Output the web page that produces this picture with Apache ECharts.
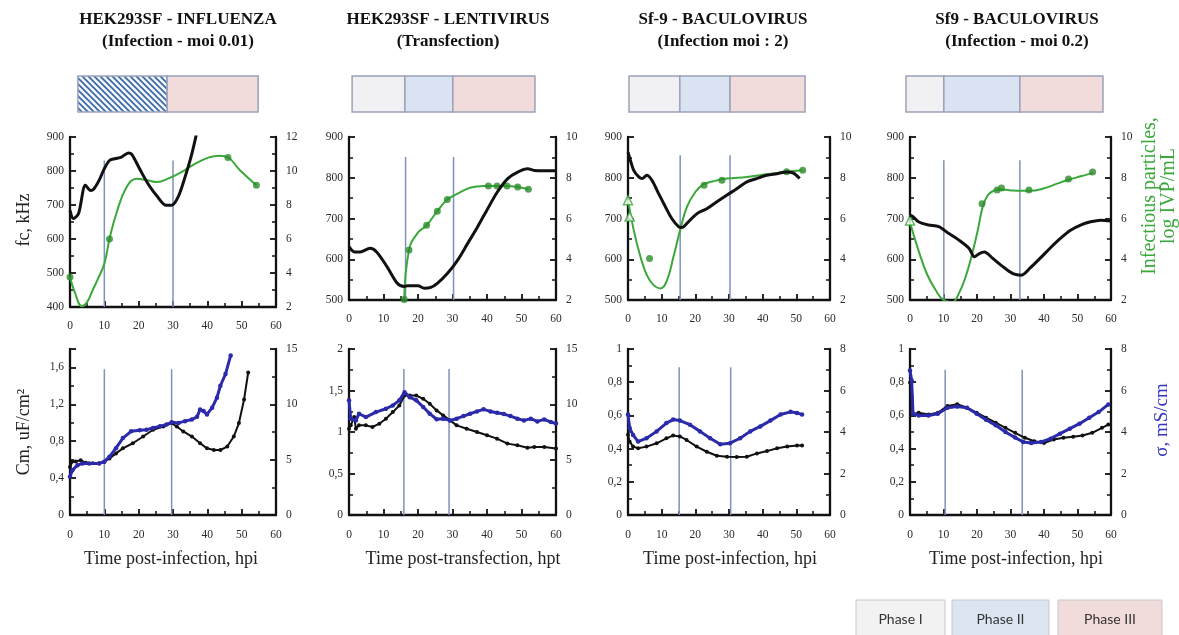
<!DOCTYPE html>
<html><head><meta charset="utf-8">
<script src="https://cdn.jsdelivr.net/npm/echarts@6/dist/echarts.min.js"></script>
<style>html,body{margin:0;padding:0;background:#fff}#c{width:1179px;height:635px}</style>
</head><body><div id="c"></div>
<script>
// ================= DATA =================
const titles = [
  'HEK293SF - INFLUENZA\n(Infection - moi 0.01)',
  'HEK293SF - LENTIVIRUS\n(Transfection)',
  'Sf-9 - BACULOVIRUS\n(Infection moi : 2)',
  'Sf9 - BACULOVIRUS\n(Infection - moi 0.2)'
];
const xNames = ['Time post-infection, hpi','Time post-transfection, hpt','Time post-infection, hpi','Time post-infection, hpi'];
const phaseNames = ['Phase I','Phase II','Phase III'];

// phase bars: boundaries (h) and kinds (0 = I, 1 = II, 2 = III, 3 = hatched I+II)
const phaseBounds1 = [2.3, 28.3, 54.8];        const phaseKinds1 = [3, 2];
const phaseBounds2 = [0.9, 16.2, 30.1, 53.9];  const phaseKinds2 = [0, 1, 2];
const phaseBounds3 = [0.3, 15.4, 30.3, 52.6];  const phaseKinds3 = [0, 1, 2];
const phaseBounds4 = [-1.2, 10.1, 32.8, 57.6]; const phaseKinds4 = [0, 1, 2];

// vertical phase lines (h) and their top value (left axis units)
const vLines1 = [10, 30];     const vTop1 = 831;
const vLines2 = [16.4, 30.3]; const vTop2 = 851;
const vLines3 = [15.5, 30.3]; const vTop3 = 855;
const vLines4 = [10.1, 32.8]; const vTop4 = 843;
const vLines5 = [10, 29.6];   const vTop5 = 1.58;
const vLines6 = [15.9, 29];   const vTop6 = 1.76;
const vLines7 = [15.2, 30.5]; const vTop7 = 0.89;
const vLines8 = [10.5, 33.5]; const vTop8 = 0.875;

// ---- top row: fc (kHz) ----
const fcT1 = [0,1,2.5,4.5,6,7,8.5,10,11.5,13,15,17,18,20.5,23,25.5,28,29.5,31.5,33.5,35.5,37.5];
const fc1  = [684,660,675,758,743,748,773,807,831,836,841,853,849,802,758,724,699,699,724,782,851,940];
const fcT2 = [0,1.6,3.2,6.1,8,11,14,16,17,20,21.8,23.7,25.6,28.5,31.5,34.4,37.3,40.2,43,46,48.9,51.8,53.7,56.6,60];
const fc2  = [631,618,618,627,618,582,541,533,535,535,529,531,541,565,598,639,680,724,765,798,814,822,818,817,817];
const fcT3 = [0,0.7,1.7,3.2,4.2,5.6,7.1,9.1,11.1,13,15,16,17.5,20.5,23.4,26.4,29.3,32.3,35.3,38.2,41.2,44.2,47.1,49,51];
const fc3  = [863,843,818,802,798,806,794,761,729,700,680,678,688,712,724,741,757,773,790,798,806,810,814,812,798];
const fcT4 = [0,1,2.5,5.5,8.6,11.6,14.6,17.6,19.2,20.7,22.2,24.7,27.7,30.7,33.3,35.8,38.8,41.8,44.9,47.9,50.9,53.9,56.9,60];
const fc4  = [708,704,692,684,680,663,647,627,606,614,618,602,582,565,561,578,602,627,651,671,684,692,696,694];

// ---- top row: infectious particles (log IVP/mL), fitted curve + measured points ----
const ipCurveT1 = [0,1.5,3.5,5,6.5,8,10,11.5,13.5,16.5,19.5,22.5,25.5,28.5,32.5,36.5,40.5,43.5,46,49.5,54.3];
const ipCurve1  = [3.76,2.8,2.05,2.3,2.95,3.6,4.55,6.0,7.5,9.06,9.55,9.45,9.35,9.55,9.94,10.43,10.8,10.9,10.8,10.04,9.16];
const ipPtT1 = [0,11.5,46,54.3];
const ipPt1  = [3.76,6.0,10.8,9.16];

const ipCurveT2 = [16,17.4,19.8,22.5,25.6,28.5,31.5,35.3,39,42.9,45.8,48.9,52];
const ipCurve2  = [2.03,4.45,5.27,5.67,6.36,6.93,7.22,7.52,7.6,7.6,7.6,7.55,7.44];
const ipPtT2 = [16,17.4,22.5,25.6,28.5,40.4,42.9,45.8,48.9,52];
const ipPt2  = [2.03,4.45,5.67,6.36,6.93,7.6,7.6,7.6,7.55,7.44];

const ipCurveT3 = [0,1.7,3.7,5.6,7.6,9.6,11.6,13.5,15.5,17.5,20,22.4,25.4,29.3,35.3,41.2,47.1,51.9];
const ipCurve3  = [6.9,5.43,4.12,3.22,2.73,2.57,2.98,4.12,5.43,6.57,7.3,7.67,7.83,7.96,8.04,8.17,8.29,8.37];
const ipPtT3 = [6.4,22.6,27.9,47.1,51.9];
const ipPt3  = [4.04,7.63,7.88,8.29,8.37];
const ipTriT3 = [0,0.5];
const ipTri3  = [6.9,6.1];

const ipCurveT4 = [0,2.5,5,7.6,10,12.6,14.6,16.6,18.6,20.2,21.7,23.2,24.7,26.7,29.7,32.8,35.8,39.8,43.9,47.4,51,54.6];
const ipCurve4  = [5.8,4.45,3.3,2.5,2.0,1.9,2.33,3.14,4.3,5.4,6.57,7.14,7.34,7.42,7.39,7.36,7.36,7.47,7.71,7.9,8.07,8.24];
const ipPtT4 = [21.5,26,27.3,35.5,47.3,54.5];
const ipPt4  = [6.72,7.4,7.5,7.4,7.94,8.28];
const ipTriT4 = [0];
const ipTri4  = [5.9];

// ---- bottom row: Cm (uF/cm2, left) and conductivity sigma (mS/cm, right) ----
const cmT1 = [0,0.7,1.7,3.1,4.6,6.6,8.5,10,11.5,13.4,15.4,18.3,21.3,24.2,27.2,29.6,31.1,33,35.5,37.9,39.9,41.9,43.8,45.8,47.7,49.2,50.7,51.9];
const cm1  = [0.52,0.58,0.58,0.595,0.566,0.56,0.56,0.577,0.614,0.668,0.723,0.778,0.851,0.924,0.96,0.997,0.96,0.906,0.851,0.778,0.723,0.705,0.705,0.742,0.851,0.997,1.253,1.545];
const sgT1 = [0,0.7,2.2,3.6,5.6,8.5,10,11.5,13.4,15.4,17.8,20.3,22.3,24.2,26.2,28.1,29.6,31.6,33.5,35.5,37,37.9,38.9,39.9,41.4,42.8,43.8,45.3,46.8];
const sg1  = [3.45,4.05,4.5,4.66,4.66,4.66,4.82,5.27,6.04,6.95,7.56,7.65,7.71,7.87,8.02,8.17,8.38,8.32,8.48,8.63,8.87,9.54,9.39,9.09,9.7,10.6,11.68,12.74,14.42];

const cmT2 = [0,0.5,1.5,2,2.9,4.9,6.8,8.8,10.7,12.7,14.6,16.1,17.6,19.5,21.5,23.4,25.4,27.3,29.3,31.2,34.1,37.1,40,42.9,45.9,48.8,51.7,53.7,56.6,60];
const cm2  = [1.04,1.08,1.18,1.04,1.08,1.08,1.06,1.1,1.16,1.24,1.32,1.44,1.44,1.44,1.4,1.34,1.26,1.2,1.14,1.08,1.04,1.0,0.96,0.92,0.86,0.84,0.81,0.82,0.82,0.8];
const sgT2 = [0,0.5,2,2.9,4.9,7.8,10.7,12.7,14.6,16.1,17.6,19.5,21.5,23.4,25.4,27.3,29.3,31.2,33.2,35.1,37.1,39,41,42.9,44.9,46.8,48.8,50.7,52.7,54.6,56.6,58.5,60];
const sg2  = [10.36,8.7,8.55,9.15,8.85,9.3,9.6,9.9,10.36,11.1,10.65,10.36,9.76,9.16,8.65,8.7,8.55,8.7,8.94,9.15,9.36,9.55,9.36,9.24,9.12,8.94,8.7,8.55,8.7,8.46,8.64,8.4,8.26];

const cmT3 = [0,0.5,1.5,3,5.5,8.5,11.4,13.4,15.4,17.4,20.4,23.4,26.4,29.4,32.3,35.3,38.3,41.3,44.3,47.3,50.2,51.7];
const cm3  = [0.483,0.442,0.412,0.402,0.412,0.432,0.462,0.479,0.473,0.452,0.412,0.381,0.357,0.351,0.349,0.351,0.371,0.385,0.402,0.412,0.418,0.418];
const sgT3 = [0,0.5,1.5,3,5.5,8.5,11.4,13.4,15.4,18.4,21.4,24.4,27.4,30.3,33.3,36.3,39.3,42.3,45.3,48.3,50.2,51.7];
const sg3  = [4.84,4.19,3.86,3.54,3.7,4.03,4.43,4.6,4.55,4.35,4.03,3.7,3.41,3.46,3.7,4.03,4.27,4.55,4.84,4.97,4.92,4.84];

const cmT4 = [0,0.5,0.7,2.6,5.5,8.3,11.2,14.1,17,19.9,22.7,25.6,28.5,31.4,34.3,37.1,40,42.9,45.8,48.7,51.5,54.4,57.3,59.2];
const cm4  = [0.798,0.717,0.606,0.616,0.606,0.616,0.657,0.667,0.646,0.616,0.586,0.556,0.525,0.495,0.465,0.444,0.434,0.455,0.465,0.471,0.479,0.495,0.525,0.545];
const sgT4 = [0,0.5,0.9,2.6,5.5,8.3,11.2,14.1,17,19.9,22.7,25.6,28.5,31.4,33.8,36.2,39.1,42,44.8,47.7,50.6,53.5,56.3,59.2];
const sg4  = [6.96,6.48,4.88,4.8,4.8,4.88,5.17,5.23,5.17,4.88,4.59,4.32,4.0,3.73,3.52,3.47,3.52,3.68,3.92,4.16,4.4,4.69,4.96,5.33];

// axis ranges
const xRange = [0, 60, 10];
const fcRanges = [[400,900,100],[500,900,100],[500,900,100],[500,900,100]];
const ipRanges = [[2,12,2],[2,10,2],[2,10,2],[2,10,2]];
const cmRanges = [[0,1.8,0.4],[0,2,0.5],[0,1,0.2],[0,1,0.2]];
const sgRanges = [[0,15,5],[0,15,5],[0,8,2],[0,8,2]];

// ================= LAYOUT / STYLE =================
const SERIF = 'Liberation Serif';
const cols = [
  {left:70, width:206, topH:170},
  {left:349, width:207, topH:163},
  {left:628, width:202, topH:163},
  {left:910, width:201, topH:163}
];
const titleX = [178, 448, 723, 1017];
const xNameX = [171, 463, 730, 1016];
const GREEN = '#3aa83a', GREEN_D = '#2c8c2c', BLUE = '#2a2aaa', VLINE = '#7d93b8';

const pairs = (t, v) => t.map((x, i) => [x, v[i]]);

// hatch pattern
const pc = document.createElement('canvas'); pc.width = 6; pc.height = 6;
const pctx = pc.getContext('2d');
pctx.fillStyle = '#f3f6fb'; pctx.fillRect(0,0,6,6);
pctx.strokeStyle = '#3565a6'; pctx.lineWidth = 1.6;
[-6,0,6].forEach(c => { pctx.beginPath(); pctx.moveTo(-1, c-1); pctx.lineTo(7, c+7); pctx.stroke(); });
const PHASE_FILLS = ['#f1f1f3', '#d9e3f1', '#f2dcdb', {image: pc, repeat: 'repeat'}];

const grids = [], xAxes = [], yAxes = [], series = [], graphics = [];

function valAxis(extra) {
  return Object.assign({
    type:'value',
    axisLine:{show:true,onZero:false,lineStyle:{color:'#111',width:2.3}},
    axisTick:{show:true,inside:true,length:6,lineStyle:{color:'#111',width:1.8}},
    minorTick:{show:true,splitNumber:2,length:4,lineStyle:{color:'#111',width:1.5}},
    splitLine:{show:false}, minorSplitLine:{show:false}
  }, extra);
}
function label(margin, fmt) {
  const o = {fontFamily:SERIF, fontSize:11.5, color:'#2a2a2a', margin:margin, showMinLabel:true, showMaxLabel:true};
  if (fmt) o.formatter = fmt;
  return o;
}
const comma = v => String(+v.toFixed(2)).replace('.', ',');

const phaseBounds = [phaseBounds1, phaseBounds2, phaseBounds3, phaseBounds4];
const phaseKinds = [phaseKinds1, phaseKinds2, phaseKinds3, phaseKinds4];
const vLinesTop = [[vLines1,vTop1],[vLines2,vTop2],[vLines3,vTop3],[vLines4,vTop4]];
const vLinesBot = [[vLines5,vTop5],[vLines6,vTop6],[vLines7,vTop7],[vLines8,vTop8]];
const fcT = [fcT1,fcT2,fcT3,fcT4], fc = [fc1,fc2,fc3,fc4];
const ipCT = [ipCurveT1,ipCurveT2,ipCurveT3,ipCurveT4], ipC = [ipCurve1,ipCurve2,ipCurve3,ipCurve4];
const ipPT = [ipPtT1,ipPtT2,ipPtT3,ipPtT4], ipP = [ipPt1,ipPt2,ipPt3,ipPt4];
const ipTT = [[], [], ipTriT3, ipTriT4], ipTv = [[], [], ipTri3, ipTri4];
const cmT = [cmT1,cmT2,cmT3,cmT4], cm = [cm1,cm2,cm3,cm4];
const sgT = [sgT1,sgT2,sgT3,sgT4], sg = [sg1,sg2,sg3,sg4];

cols.forEach((c, ci) => {
  // ---- phase bar grid ----
  const gP = grids.length;
  grids.push({left:c.left, width:c.width, top:76, height:36, outerBoundsMode:'none'});
  xAxes.push({type:'value', gridIndex:gP, min:xRange[0], max:xRange[1], show:false});
  const yP = yAxes.length;
  yAxes.push({type:'value', gridIndex:gP, min:0, max:1, show:false});
  const pb = phaseBounds[ci], pk = phaseKinds[ci];
  series.push({
    type:'custom', xAxisIndex:gP, yAxisIndex:yP, silent:true,
    dimensions:['start','end','kind'], encode:{x:[0,1]},
    data: pk.map((k, i) => [pb[i], pb[i+1], k]),
    renderItem: (params, api) => {
      const s = api.coord([api.value(0), 0]);
      const e = api.coord([api.value(1), 1]);
      return {type:'rect', shape:{x:s[0], y:e[1], width:e[0]-s[0], height:s[1]-e[1]},
              style:{fill: PHASE_FILLS[api.value(2)], stroke:'#9ba2b9', lineWidth:1.5}};
    }
  });

  // ---- top grid ----
  const gT = grids.length;
  grids.push({left:c.left, width:c.width, top:137, height:c.topH, outerBoundsMode:'none'});
  xAxes.push(valAxis({gridIndex:gT, min:xRange[0], max:xRange[1], interval:xRange[2], axisLabel:label(13)}));
  const yTL = yAxes.length;
  yAxes.push(valAxis({gridIndex:gT, position:'left', min:fcRanges[ci][0], max:fcRanges[ci][1], interval:fcRanges[ci][2], axisLabel:label(6)}));
  const yTR = yAxes.length;
  yAxes.push(valAxis({gridIndex:gT, position:'right', alignTicks:false, min:ipRanges[ci][0], max:ipRanges[ci][1], interval:ipRanges[ci][2], axisLabel:label(10)}));

  vLinesTop[ci][0].forEach(t => series.push({
    type:'line', xAxisIndex:gT, yAxisIndex:yTL, silent:true, showSymbol:false, z:1,
    data:[[t, fcRanges[ci][0]], [t, vLinesTop[ci][1]]],
    lineStyle:{color:VLINE, width:1.5}
  }));
  series.push({
    type:'line', xAxisIndex:gT, yAxisIndex:yTR, smooth:0.45, showSymbol:false, z:3,
    data: pairs(ipCT[ci], ipC[ci]), lineStyle:{color:GREEN, width:2}
  });
  series.push({
    type:'scatter', xAxisIndex:gT, yAxisIndex:yTR, symbolSize:7, z:4, clip:false,
    data: pairs(ipPT[ci], ipP[ci]), itemStyle:{color:GREEN_D}
  });
  if (ipTT[ci].length) series.push({
    type:'scatter', xAxisIndex:gT, yAxisIndex:yTR, symbol:'triangle', symbolSize:9, z:4, clip:false,
    data: pairs(ipTT[ci], ipTv[ci]), itemStyle:{color:'#ffffff', borderColor:GREEN, borderWidth:1.5}
  });
  series.push({
    type:'line', xAxisIndex:gT, yAxisIndex:yTL, smooth:0.3, showSymbol:false, z:5,
    data: pairs(fcT[ci], fc[ci]), lineStyle:{color:'#111', width:3}
  });

  // ---- bottom grid ----
  const gB = grids.length;
  grids.push({left:c.left, width:c.width, top:349, height:166, outerBoundsMode:'none'});
  xAxes.push(valAxis({gridIndex:gB, min:xRange[0], max:xRange[1], interval:xRange[2], axisLabel:label(14)}));
  const yBL = yAxes.length;
  const cr = cmRanges[ci];
  const blLabel = label(6, comma);
  if (ci === 0) blLabel.showMaxLabel = false;
  yAxes.push(valAxis({gridIndex:gB, position:'left', min:cr[0], max:cr[1], interval:cr[2], axisLabel:blLabel}));
  const yBR = yAxes.length;
  yAxes.push(valAxis({gridIndex:gB, position:'right', alignTicks:false, min:sgRanges[ci][0], max:sgRanges[ci][1], interval:sgRanges[ci][2], axisLabel:label(10)}));

  vLinesBot[ci][0].forEach(t => series.push({
    type:'line', xAxisIndex:gB, yAxisIndex:yBL, silent:true, showSymbol:false, z:1,
    data:[[t, cr[0]], [t, vLinesBot[ci][1]]],
    lineStyle:{color:VLINE, width:1.5}
  }));
  series.push({
    type:'line', xAxisIndex:gB, yAxisIndex:yBL, showSymbol:true, showAllSymbol:true, symbol:'circle', symbolSize:4, z:3,
    data: pairs(cmT[ci], cm[ci]), lineStyle:{color:'#111', width:2}, itemStyle:{color:'#111'}
  });
  series.push({
    type:'line', xAxisIndex:gB, yAxisIndex:yBR, showSymbol:true, showAllSymbol:true, symbol:'circle', symbolSize:4.5, z:4,
    data: pairs(sgT[ci], sg[ci]), lineStyle:{color:BLUE, width:3}, itemStyle:{color:BLUE}
  });

  // ---- texts ----
  graphics.push({type:'text', x:titleX[ci], y:31, silent:true,
    style:{text:titles[ci], font:'bold 17px "'+SERIF+'"', fill:'#111', textAlign:'center', textVerticalAlign:'middle', align:'center', verticalAlign:'middle', lineHeight:22}});
  graphics.push({type:'text', x:xNameX[ci], y:559, silent:true,
    style:{text:xNames[ci], font:'18px "'+SERIF+'"', fill:'#222', textAlign:'center', textVerticalAlign:'middle', align:'center', verticalAlign:'middle'}});
});

// axis titles
function vText(x, y, text, color, size, lh) {
  graphics.push({type:'text', x:x, y:y, rotation:Math.PI/2, silent:true,
    style:{text:text, font:size+'px "'+SERIF+'"', fill:color, textAlign:'center', textVerticalAlign:'middle', align:'center', verticalAlign:'middle', lineHeight:lh||size}});
}
vText(24, 220, 'fc, kHz', '#222', 18);
vText(24, 432, 'Cm, uF/cm²', '#222', 18);
vText(1159, 196, 'Infectious particles,\nlog IVP/mL', GREEN, 20, 19);
vText(1162, 420, 'σ, mS/cm', '#3535c0', 19);

// legend boxes
const legendBoxes = [[856, 89], [952, 97], [1058, 104]];
const legendFills = ['#f2f2f2', '#dce6f2', '#f2dcdb'];
phaseNames.forEach((n, i) => {
  graphics.push({type:'rect', silent:true, shape:{x:legendBoxes[i][0], y:600, width:legendBoxes[i][1], height:45},
    style:{fill:legendFills[i], stroke:'#c8c8cc', lineWidth:1}});
  graphics.push({type:'text', silent:true, x:legendBoxes[i][0] + legendBoxes[i][1]/2, y:619,
    style:{text:n, font:'14px Lato', fill:'#333', textAlign:'center', textVerticalAlign:'middle', align:'center', verticalAlign:'middle'}});
});

const chart = echarts.init(document.getElementById('c'), null, {renderer:'canvas'});
chart.setOption({
  animation:false,
  backgroundColor:'#ffffff',
  grid:grids, xAxis:xAxes, yAxis:yAxes, series:series, graphic:graphics
});
</script></body></html>
